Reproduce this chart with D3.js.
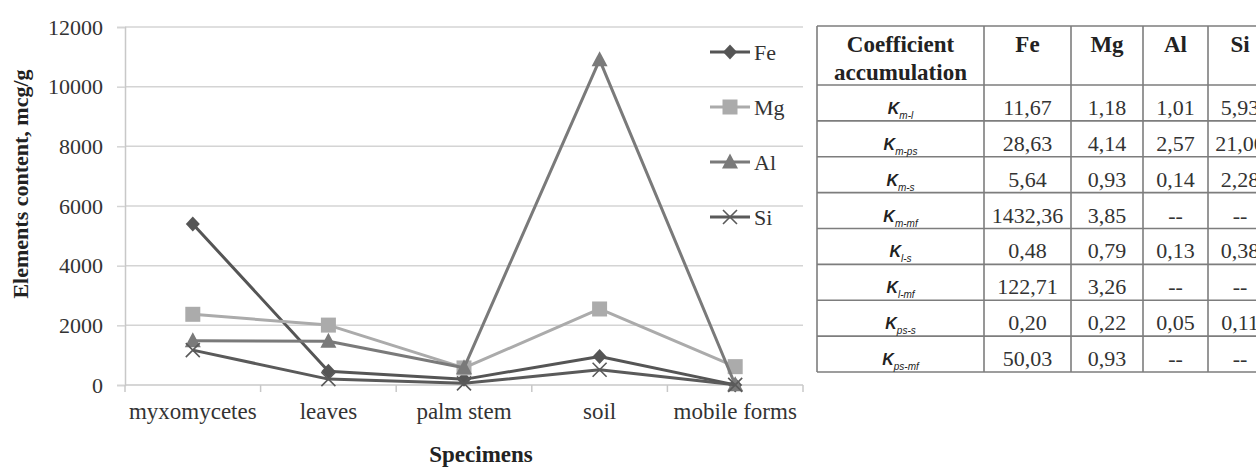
<!DOCTYPE html>
<html>
<head>
<meta charset="utf-8">
<script src="https://cdn.jsdelivr.net/npm/d3@7"></script>
<style>
  html, body { margin: 0; padding: 0; background: #fff; }
  svg { display: block; }
  text { font-family: "Liberation Serif", "Times New Roman", serif; }
</style>
</head>
<body>
<svg id="chart" width="1256" height="468"></svg>
<script>
// Specimens along the x axis
const categories = ["myxomycetes", "leaves", "palm stem", "soil", "mobile forms"];

// Element content per specimen, mcg/g
const fe = [5400, 463, 189, 957, 4];
const mg = [2370, 2008, 572, 2548, 615];
const al = [1480, 1465, 576, 10900, 8];
const si = [1170, 197, 56, 513, 6];

const yTicks = [0, 2000, 4000, 6000, 8000, 10000, 12000];

// Accumulation coefficients table
const coefHeaders = ["Fe", "Mg", "Al", "Si"];
const coefRows = [
  ["K", "m-l"], ["K", "m-ps"], ["K", "m-s"], ["K", "m-mf"],
  ["K", "l-s"], ["K", "l-mf"], ["K", "ps-s"], ["K", "ps-mf"]
];
const coefFe = ["11,67", "28,63", "5,64", "1432,36", "0,48", "122,71", "0,20", "50,03"];
const coefMg = ["1,18", "4,14", "0,93", "3,85", "0,79", "3,26", "0,22", "0,93"];
const coefAl = ["1,01", "2,57", "0,14", "--", "0,13", "--", "0,05", "--"];
const coefSi = ["5,93", "21,00", "2,28", "--", "0,38", "--", "0,11", "--"];

const series = [
  { name: "Fe", values: fe, color: "#555555", marker: "diamond" },
  { name: "Mg", values: mg, color: "#ababab", marker: "square" },
  { name: "Al", values: al, color: "#7a7a7a", marker: "triangle" },
  { name: "Si", values: si, color: "#5a5a5a", marker: "cross" }
];

const svg = d3.select("#chart");
const plot = { left: 125, right: 803, top: 27, bottom: 385 };

const x = d3.scaleBand().domain(categories).range([plot.left, plot.right]);
const y = d3.scaleLinear().domain([0, 12000]).range([plot.bottom, plot.top]);

// Horizontal gridlines
svg.append("g")
  .selectAll("line")
  .data(yTicks.filter(d => d > 0))
  .join("line")
  .attr("x1", plot.left).attr("x2", plot.right)
  .attr("y1", d => y(d)).attr("y2", d => y(d))
  .attr("stroke", "#d4d4d4").attr("stroke-width", 1.5);

// Y axis
const yAxis = svg.append("g")
  .attr("transform", `translate(${plot.left},0)`)
  .call(d3.axisLeft(y).tickValues(yTicks).tickSize(8).tickPadding(14).tickFormat(d3.format("d")));
yAxis.select(".domain").attr("stroke", "#c8c8c8").attr("stroke-width", 1.5);
yAxis.selectAll(".tick line").attr("stroke", "#d4d4d4").attr("stroke-width", 1.5);
yAxis.selectAll(".tick text")
  .attr("fill", "#333").style("font-size", "22px")
  .style("font-family", "'Liberation Serif', serif");

// X axis with ticks between categories
const xAxisG = svg.append("g").attr("transform", `translate(0,${plot.bottom})`);
xAxisG.append("line")
  .attr("x1", plot.left).attr("x2", plot.right)
  .attr("stroke", "#c8c8c8").attr("stroke-width", 1.5);
xAxisG.selectAll("line.tk")
  .data(categories.map(c => x(c)).concat([plot.right]))
  .join("line").attr("class", "tk")
  .attr("x1", d => d).attr("x2", d => d)
  .attr("y1", 0).attr("y2", 7)
  .attr("stroke", "#c8c8c8").attr("stroke-width", 1.5);
xAxisG.selectAll("text")
  .data(categories)
  .join("text")
  .attr("x", d => x(d) + x.bandwidth() / 2)
  .attr("y", 34)
  .attr("text-anchor", "middle")
  .attr("fill", "#333")
  .style("font-size", "23px")
  .text(d => d);

// Axis titles
svg.append("text")
  .attr("transform", "translate(28,184) rotate(-90)")
  .attr("text-anchor", "middle")
  .style("font-size", "22px").style("font-weight", "bold")
  .attr("fill", "#222")
  .text("Elements content, mcg/g");

svg.append("text")
  .attr("x", 481).attr("y", 462)
  .attr("text-anchor", "middle")
  .style("font-size", "23px").style("font-weight", "bold")
  .attr("fill", "#222")
  .text("Specimens");

// Marker shapes
function drawMarker(g, type, color) {
  if (type === "diamond") {
    g.append("path").attr("d", "M0,-7.5 L7,0 L0,7.5 L-7,0 Z").attr("fill", color);
  } else if (type === "square") {
    g.append("rect").attr("x", -7.5).attr("y", -7.5).attr("width", 15).attr("height", 15).attr("fill", color);
  } else if (type === "triangle") {
    g.append("path").attr("d", "M0,-8.5 L8,6.5 L-8,6.5 Z").attr("fill", color);
  } else {
    g.append("path").attr("d", "M-7,-7 L7,7 M7,-7 L-7,7")
      .attr("stroke", color).attr("stroke-width", 1.6).attr("fill", "none");
  }
}

const line = d3.line()
  .x((d, i) => x(categories[i]) + x.bandwidth() / 2)
  .y(d => y(d));

series.forEach(s => {
  const g = svg.append("g");
  g.append("path")
    .datum(s.values)
    .attr("d", line)
    .attr("fill", "none")
    .attr("stroke", s.color)
    .attr("stroke-width", 3)
    .attr("stroke-linejoin", "round");
  g.selectAll("g.pt")
    .data(s.values)
    .join("g").attr("class", "pt")
    .attr("transform", (d, i) => `translate(${x(categories[i]) + x.bandwidth() / 2},${y(d)})`)
    .each(function() { drawMarker(d3.select(this), s.marker, s.color); });
});

// Legend
const legend = svg.append("g");
series.forEach((s, i) => {
  const ly = 52 + i * 55;
  const lg = legend.append("g").attr("transform", `translate(730,${ly})`);
  lg.append("line").attr("x1", -20).attr("x2", 20).attr("stroke", s.color).attr("stroke-width", 3);
  drawMarker(lg, s.marker, s.color);
  lg.append("text").attr("x", 24).attr("y", 8)
    .attr("fill", "#333").style("font-size", "22px").text(s.name);
});

// Coefficient table
const colX = [817, 984, 1071, 1143, 1208, 1272];
const headTop = 26, headBottom = 85, rowH = (372 - 85) / coefRows.length;
const table = svg.append("g");
const border = "#7d7d7d";

// Horizontal rules
const rowLines = [headTop, headBottom].concat(coefRows.map((r, i) => headBottom + (i + 1) * rowH));
table.selectAll("line.h")
  .data(rowLines).join("line").attr("class", "h")
  .attr("x1", colX[0]).attr("x2", colX[colX.length - 1])
  .attr("y1", d => d).attr("y2", d => d)
  .attr("stroke", border).attr("stroke-width", 1.6);
// Vertical rules
table.selectAll("line.v")
  .data(colX).join("line").attr("class", "v")
  .attr("x1", d => d).attr("x2", d => d)
  .attr("y1", headTop).attr("y2", rowLines[rowLines.length - 1])
  .attr("stroke", border).attr("stroke-width", 1.6);

// Header
const headCx = (colX[0] + colX[1]) / 2;
table.append("text").attr("x", headCx).attr("y", 52).attr("text-anchor", "middle")
  .style("font-size", "23px").style("font-weight", "bold").attr("fill", "#222").text("Coefficient");
table.append("text").attr("x", headCx).attr("y", 80).attr("text-anchor", "middle")
  .style("font-size", "23px").style("font-weight", "bold").attr("fill", "#222").text("accumulation");
coefHeaders.forEach((h, i) => {
  table.append("text").attr("x", (colX[i + 1] + colX[i + 2]) / 2).attr("y", 52)
    .attr("text-anchor", "middle")
    .style("font-size", "23px").style("font-weight", "bold").attr("fill", "#222").text(h);
});

// Body rows
const cols = [coefFe, coefMg, coefAl, coefSi];
coefRows.forEach((r, i) => {
  const base = headBottom + (i + 1) * rowH - 6;
  const t = table.append("text").attr("x", headCx).attr("y", base - 1).attr("text-anchor", "middle")
    .attr("fill", "#222");
  t.append("tspan").text(r[0])
    .style("font-family", "'Liberation Sans', Arial, sans-serif")
    .style("font-style", "italic").style("font-weight", "bold").style("font-size", "16px");
  t.append("tspan").text(r[1]).attr("dy", 5)
    .style("font-family", "'Liberation Sans', Arial, sans-serif")
    .style("font-style", "italic").style("font-size", "10px");
  cols.forEach((c, j) => {
    table.append("text").attr("x", (colX[j + 1] + colX[j + 2]) / 2).attr("y", base)
      .attr("text-anchor", "middle").attr("fill", "#333")
      .style("font-size", "22px").text(c[i]);
  });
});
</script>
</body>
</html>
